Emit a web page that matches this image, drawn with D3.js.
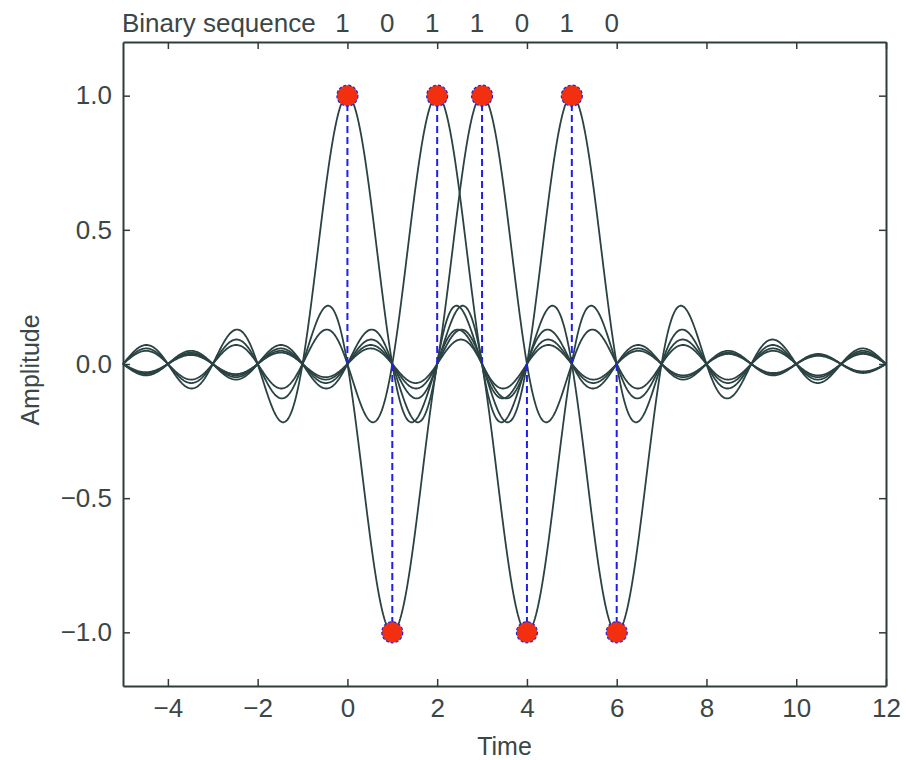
<!DOCTYPE html>
<html lang="en">
<head>
    <meta charset="UTF-8" />
    <script src="https://d3js.org/d3.v7.min.js"></script>
    <title>Sinc pulses</title>
    <style>
        body { margin: 0; background: #fff; }
        svg text { font-family: "Liberation Sans", Arial, sans-serif; fill: #3b4646; }
        .axis path, .axis line { stroke: #2f3c3c; }
    </style>
</head>
<body>
    <script>
        // binary sequence sent, one pulse per time slot
        const bits = [1, 0, 1, 1, 0, 1, 0];
        const slots = [0, 1, 2, 3, 4, 5, 6];
        const levels = bits.map(b => b ? 1 : -1);
        const xTicks = [-4, -2, 0, 2, 4, 6, 8, 10, 12];
        const yTicks = [-1.0, -0.5, 0.0, 0.5, 1.0];

        // pulse shape (ideal Nyquist pulse)
        const sinc = t => t === 0 ? 1 : Math.sin(Math.PI * t) / (Math.PI * t);

        const width = 906, height = 760;
        const margin = { left: 123, right: 20, top: 42, bottom: 74 };

        const svg = d3.select("body").append("svg")
            .attr("width", width)
            .attr("height", height);

        const x = d3.scaleLinear().domain([-5, 12]).range([margin.left, width - margin.right]);
        const y = d3.scaleLinear().domain([-1.2, 1.2]).range([height - margin.bottom, margin.top]);

        const fmt = d => d3.format(".1f")(d).replace("-", "\u2212");
        const fmtX = d => String(d).replace("-", "\u2212");

        // axes, ticks point inward
        svg.append("g").classed("axis", true)
            .attr("transform", `translate(0,${y(-1.2)})`)
            .call(d3.axisBottom(x).tickValues(xTicks).tickFormat(fmtX).tickSizeInner(-7).tickSizeOuter(0).tickPadding(13));
        svg.append("g").classed("axis", true)
            .attr("transform", `translate(0,${y(1.2)})`)
            .call(d3.axisTop(x).tickValues(xTicks).tickFormat("").tickSizeInner(-7).tickSizeOuter(0));
        svg.append("g").classed("axis", true)
            .attr("transform", `translate(${x(-5)},0)`)
            .call(d3.axisLeft(y).tickValues(yTicks).tickFormat(fmt).tickSizeInner(-7).tickSizeOuter(0).tickPadding(11));
        svg.append("g").classed("axis", true)
            .attr("transform", `translate(${x(12)},0)`)
            .call(d3.axisRight(y).tickValues(yTicks).tickFormat("").tickSizeInner(-7).tickSizeOuter(0));

        svg.selectAll(".axis path").attr("stroke-width", 2);
        svg.selectAll(".axis line").attr("stroke-width", 1.5);
        svg.selectAll(".axis text").attr("font-size", 26).attr("fill", "#3b4646");

        // pulses
        const ts = d3.range(-5, 12.0001, 0.02);
        const line = d3.line().x(d => x(d[0])).y(d => y(d[1]));
        svg.append("g").selectAll("path")
            .data(slots)
            .join("path")
            .attr("d", (k, i) => line(ts.map(t => [t, levels[i] * sinc(t - k)])))
            .attr("fill", "none")
            .attr("stroke", "#2a4242")
            .attr("stroke-width", 1.8);

        // dashed stems
        svg.append("g").selectAll("line")
            .data(slots)
            .join("line")
            .attr("x1", k => x(k))
            .attr("x2", k => x(k))
            .attr("y1", y(0))
            .attr("y2", (k, i) => y(levels[i]))
            .attr("stroke", "#1f1fe8")
            .attr("stroke-width", 2)
            .attr("stroke-dasharray", "7,4");

        // sample points
        svg.append("g").selectAll("circle")
            .data(slots)
            .join("circle")
            .attr("cx", k => x(k))
            .attr("cy", (k, i) => y(levels[i]))
            .attr("r", 10.5)
            .attr("fill", "#f2300f")
            .attr("stroke", "#2020e0")
            .attr("stroke-width", 1.2)
            .attr("stroke-dasharray", "3,2");

        // binary sequence header
        svg.append("text")
            .attr("x", 122)
            .attr("y", 32)
            .attr("font-size", 26)
            .text("Binary sequence");
        svg.append("g").selectAll("text")
            .data(slots)
            .join("text")
            .attr("x", k => x(k) - 5)
            .attr("y", 32)
            .attr("text-anchor", "middle")
            .attr("font-size", 26)
            .text((k, i) => bits[i]);

        // axis titles
        svg.append("text")
            .attr("x", (x(-5) + x(12)) / 2)
            .attr("y", 755)
            .attr("text-anchor", "middle")
            .attr("font-size", 25)
            .text("Time");
        svg.append("text")
            .attr("transform", `translate(39,${(y(1.2) + y(-1.2)) / 2 + 6}) rotate(-90)`)
            .attr("text-anchor", "middle")
            .attr("font-size", 25)
            .text("Amplitude");
    </script>
</body>
</html>
